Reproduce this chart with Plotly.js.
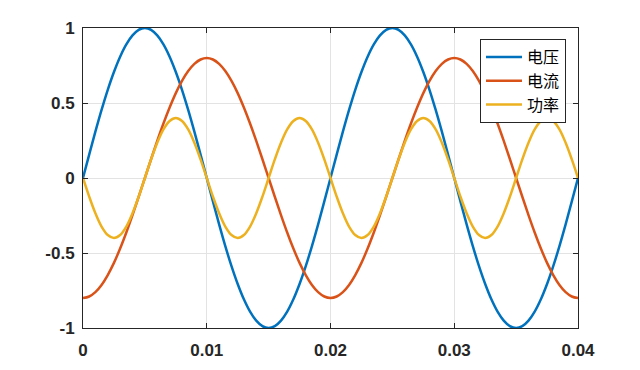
<!DOCTYPE html>
<html><head><meta charset="utf-8">
<script src="https://cdn.plot.ly/plotly-3.0.1.min.js"></script>
<style>html,body{margin:0;padding:0;background:#fff}</style>
</head><body><div id="c" style="width:640px;height:370px"></div>
<script>
var time = [0,0.0005,0.001,0.0015,0.002,0.0025,0.003,0.0035,0.004,0.0045,0.005,0.0055,0.006,0.0065,0.007,0.0075,0.008,0.0085,0.009,0.0095,
0.01,0.0105,0.011,0.0115,0.012,0.0125,0.013,0.0135,0.014,0.0145,0.015,0.0155,0.016,0.0165,0.017,0.0175,0.018,0.0185,0.019,0.0195,
0.02,0.0205,0.021,0.0215,0.022,0.0225,0.023,0.0235,0.024,0.0245,0.025,0.0255,0.026,0.0265,0.027,0.0275,0.028,0.0285,0.029,0.0295,
0.03,0.0305,0.031,0.0315,0.032,0.0325,0.033,0.0335,0.034,0.0345,0.035,0.0355,0.036,0.0365,0.037,0.0375,0.038,0.0385,0.039,0.0395,0.04];
var voltage = [0,0.156,0.309,0.454,0.588,0.707,0.809,0.891,0.951,0.988,1,0.988,0.951,0.891,0.809,0.707,0.588,0.454,0.309,0.156,
0,-0.156,-0.309,-0.454,-0.588,-0.707,-0.809,-0.891,-0.951,-0.988,-1,-0.988,-0.951,-0.891,-0.809,-0.707,-0.588,-0.454,-0.309,-0.156,
0,0.156,0.309,0.454,0.588,0.707,0.809,0.891,0.951,0.988,1,0.988,0.951,0.891,0.809,0.707,0.588,0.454,0.309,0.156,
0,-0.156,-0.309,-0.454,-0.588,-0.707,-0.809,-0.891,-0.951,-0.988,-1,-0.988,-0.951,-0.891,-0.809,-0.707,-0.588,-0.454,-0.309,-0.156,0];
var current = [-0.8,-0.79,-0.761,-0.713,-0.647,-0.566,-0.47,-0.363,-0.247,-0.125,0,0.125,0.247,0.363,0.47,0.566,0.647,0.713,0.761,0.79,
0.8,0.79,0.761,0.713,0.647,0.566,0.47,0.363,0.247,0.125,0,-0.125,-0.247,-0.363,-0.47,-0.566,-0.647,-0.713,-0.761,-0.79,
-0.8,-0.79,-0.761,-0.713,-0.647,-0.566,-0.47,-0.363,-0.247,-0.125,0,0.125,0.247,0.363,0.47,0.566,0.647,0.713,0.761,0.79,
0.8,0.79,0.761,0.713,0.647,0.566,0.47,0.363,0.247,0.125,0,-0.125,-0.247,-0.363,-0.47,-0.566,-0.647,-0.713,-0.761,-0.79,-0.8];
var power = [0,-0.124,-0.235,-0.324,-0.38,-0.4,-0.38,-0.324,-0.235,-0.124,0,0.124,0.235,0.324,0.38,0.4,0.38,0.324,0.235,0.124,
0,-0.124,-0.235,-0.324,-0.38,-0.4,-0.38,-0.324,-0.235,-0.124,0,0.124,0.235,0.324,0.38,0.4,0.38,0.324,0.235,0.124,
0,-0.124,-0.235,-0.324,-0.38,-0.4,-0.38,-0.324,-0.235,-0.124,0,0.124,0.235,0.324,0.38,0.4,0.38,0.324,0.235,0.124,
0,-0.124,-0.235,-0.324,-0.38,-0.4,-0.38,-0.324,-0.235,-0.124,0,0.124,0.235,0.324,0.38,0.4,0.38,0.324,0.235,0.124,0];
var seriesNames = ['电压','电流','功率'];
var xTickVals = [0,0.01,0.02,0.03,0.04];
var xTickText = ['0','0.01','0.02','0.03','0.04'];
var yTickVals = [-1,-0.5,0,0.5,1];
var yTickText = ['-1','-0.5','0','0.5','1'];

var colors = ['#0072BD','#D95319','#EDB120'];
var ys = [voltage,current,power];
var traces = ys.map(function(y,i){
  return {x:time,y:y,name:seriesNames[i],type:'scatter',mode:'lines',
    line:{color:colors[i],width:2.5,shape:'spline',smoothing:1}};
});
var tickFont = {family:'Liberation Sans, Arial, sans-serif',size:17,color:'#262626',weight:'bold'};
var axisCommon = {showline:true,mirror:'ticks',linecolor:'#262626',linewidth:1,ticks:'inside',
  ticklen:5,tickcolor:'#262626',showgrid:true,gridcolor:'#e3e3e3',gridwidth:1,zeroline:false,
  tickfont:tickFont,fixedrange:true};
var layout = {
  width:640,height:370,
  margin:{l:83,r:62,t:28,b:42},
  paper_bgcolor:'#fff',plot_bgcolor:'#fff',
  xaxis:Object.assign({},axisCommon,{range:[0,0.04],tickvals:xTickVals,ticktext:xTickText,ticklabelstandoff:7}),
  yaxis:Object.assign({},axisCommon,{range:[-1,1],tickvals:yTickVals,ticktext:yTickText,ticklabelstandoff:4}),
  showlegend:true,
  legend:{x:0.802,y:0.963,xanchor:'left',yanchor:'top',bgcolor:'#fff',bordercolor:'#262626',borderwidth:1,
    font:{family:'Noto Sans CJK SC, sans-serif',size:16,color:'#000'},tracegroupgap:0,itemwidth:36}
};
Plotly.newPlot('c',traces,layout,{staticPlot:true,displayModeBar:false});
</script></body></html>
